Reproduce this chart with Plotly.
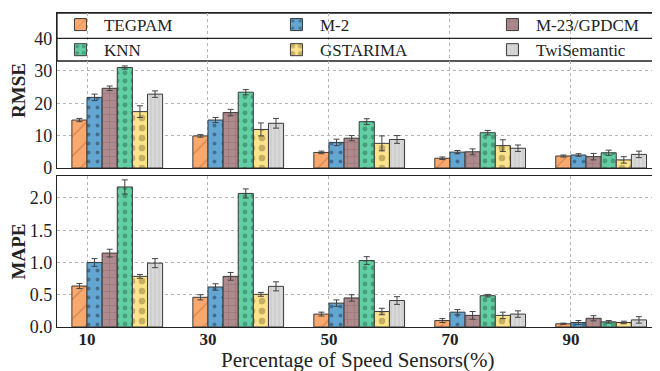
import plotly.graph_objects as go

categories = [10, 30, 50, 70, 90]
methods = ["TEGPAM", "M-2", "M-23/GPDCM", "KNN", "GSTARIMA", "TwiSemantic"]

rmse = {
    "TEGPAM":      [14.8, 9.9, 4.8, 3.0, 3.7],
    "M-2":         [21.8, 14.8, 7.9, 4.9, 4.0],
    "M-23/GPDCM":  [24.6, 17.1, 9.2, 5.0, 3.5],
    "KNN":         [31.0, 23.4, 14.3, 10.9, 4.7],
    "GSTARIMA":    [17.4, 11.9, 7.6, 6.9, 2.5],
    "TwiSemantic": [22.8, 13.8, 8.8, 6.1, 4.2],
}
rmse_err = {
    "TEGPAM":      [0.5, 0.4, 0.4, 0.4, 0.3],
    "M-2":         [1.0, 0.8, 1.0, 0.5, 0.4],
    "M-23/GPDCM":  [0.7, 1.0, 0.8, 0.9, 1.0],
    "KNN":         [0.5, 0.8, 0.9, 0.7, 0.8],
    "GSTARIMA":    [1.8, 2.0, 2.3, 1.8, 1.0],
    "TwiSemantic": [1.0, 1.5, 1.2, 1.0, 1.0],
}
mape = {
    "TEGPAM":      [0.635, 0.46, 0.20, 0.10, 0.05],
    "M-2":         [1.00, 0.62, 0.37, 0.23, 0.07],
    "M-23/GPDCM":  [1.145, 0.785, 0.45, 0.18, 0.135],
    "KNN":         [2.17, 2.07, 1.03, 0.485, 0.08],
    "GSTARIMA":    [0.785, 0.506, 0.24, 0.18, 0.07],
    "TwiSemantic": [0.99, 0.63, 0.41, 0.20, 0.11],
}
mape_err = {
    "TEGPAM":      [0.04, 0.04, 0.03, 0.03, 0.01],
    "M-2":         [0.06, 0.05, 0.05, 0.04, 0.03],
    "M-23/GPDCM":  [0.06, 0.06, 0.05, 0.06, 0.04],
    "KNN":         [0.11, 0.07, 0.06, 0.02, 0.02],
    "GSTARIMA":    [0.03, 0.03, 0.05, 0.05, 0.02],
    "TwiSemantic": [0.07, 0.07, 0.06, 0.05, 0.05],
}
x_title = "Percentage of Speed Sensors(%)"

colors = ["#f9a86e", "#64a6d2", "#ae8a8d", "#62cfa3", "#fde38c", "#d9d9d9"]
pat_shape = ["/", ".", "+", ".", ".", "|"]
pat_fg = ["#9a5424", "#1d3550", "#5e4244", "#2b6a55", "#8a7a3a", "#8e8e8e"]
pat_size = [14, 9, 7, 8, 10, 4]
pat_sol = [0.08, 0.15, 0.1, 0.28, 0.35, 0.15]

BAR_W = 2.5
SERIF = "Liberation Serif"

fig = go.Figure()
for i, m in enumerate(methods):
    for panel, vals, errs in (("top", rmse, rmse_err), ("bot", mape, mape_err)):
        fig.add_trace(go.Bar(
            x=categories, y=vals[m], name=m,
            width=BAR_W, offset=-BAR_W + BAR_W * i,
            xaxis="x" if panel == "top" else "x2",
            yaxis="y" if panel == "top" else "y2",
            showlegend=(panel == "top"),
            marker=dict(color=colors[i],
                        line=dict(color="#3a3a3a", width=1),
                        pattern=dict(shape=pat_shape[i], fgcolor=pat_fg[i],
                                     size=pat_size[i], solidity=pat_sol[i])),
            error_y=dict(type="data", array=errs[m], color="#444444",
                         thickness=1, width=3),
        ))

grid = dict(showgrid=True, gridcolor="#b5b5b5", griddash="dot", gridwidth=1)
axline = dict(showline=True, linecolor="#222222", linewidth=1.3, mirror=True,
              zeroline=False, ticks="", automargin=False)
xr = [5.04, 104.4]

fig.update_layout(
    width=652, height=363,
    margin=dict(l=49, r=2, t=5, b=44, autoexpand=False),
    paper_bgcolor="white", plot_bgcolor="white",
    barmode="overlay",
    font=dict(family=SERIF, color="#222222"),
    xaxis=dict(domain=[0, 1], range=xr, anchor="y", tickvals=categories,
               showticklabels=False, **grid, **axline),
    yaxis=dict(domain=[0.5064, 1], range=[0, 47.84], anchor="x",
               tickvals=[0, 10, 20, 30, 40],
               tickfont=dict(size=18),
               title=dict(text="<b>RMSE</b>", font=dict(size=19), standoff=6),
               **grid, **axline),
    xaxis2=dict(domain=[0, 1], range=xr, anchor="y2", tickvals=categories,
                ticktext=["<b>%d</b>" % c for c in categories],
                tickfont=dict(size=17), ticklabelstandoff=-4,
                **grid, **axline),
    yaxis2=dict(domain=[0, 0.4809], range=[0, 2.34], anchor="x2",
                tickvals=[0, 0.5, 1.0, 1.5, 2.0],
                ticktext=["0.0", "0.5", "1.0", "1.5", "2.0"],
                tickfont=dict(size=18),
                title=dict(text="<b>MAPE</b>", font=dict(size=19), standoff=6),
                **grid, **axline),
    legend=dict(orientation="h", x=-0.0001, xanchor="left", y=1.019, yanchor="top",
                bgcolor="rgba(0,0,0,0)", borderwidth=0,
                entrywidth=164, entrywidthmode="pixels", itemwidth=37,
                font=dict(size=17, family=SERIF), traceorder="normal",
                tracegroupgap=0),
    shapes=[
        dict(type="rect", xref="paper", yref="paper",
             x0=0, x1=1, y0=0.8471, y1=1.0,
             line=dict(color="#222222", width=1.3), fillcolor="white",
             layer="below"),
        dict(type="line", xref="paper", yref="y", x0=0, x1=1, y0=40, y1=40,
             line=dict(color="#222222", width=1.3), layer="above"),
    ],
    annotations=[dict(text=x_title, xref="paper", yref="paper", x=0.5, y=-0.106,
                      xanchor="center", yanchor="middle", showarrow=False,
                      font=dict(size=21, family=SERIF, color="#222222"))],
)

fig.write_html("out.html")
